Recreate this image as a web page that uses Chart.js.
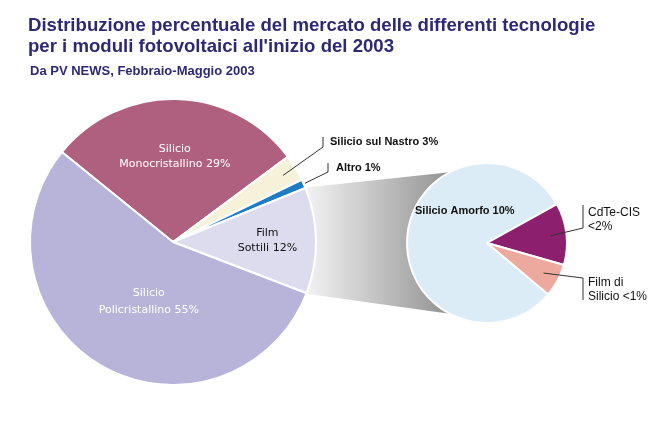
<!DOCTYPE html>
<html>
<head>
<meta charset="utf-8">
<script src="https://cdn.jsdelivr.net/npm/chart.js@4.4.1/dist/chart.umd.min.js"></script>
<style>
body { margin: 0; background: #fff; }
#wrap { position: relative; width: 667px; height: 427px; overflow: hidden; }
canvas { position: absolute; left: 0; top: 0; }
.t { position: absolute; left: 28px; font-family: "Liberation Sans", Arial, sans-serif; font-weight: bold; color: #2e2974; white-space: nowrap; }
#title { top: 14px; font-size: 18.6px; line-height: 21px; }
#sub { top: 63px; left: 30px; font-size: 13px; line-height: 15px; }
</style>
</head>
<body>
<div id="wrap">
  <canvas id="detail" width="667" height="427"></canvas>
  <canvas id="main" width="667" height="427"></canvas>
  <div class="t" id="title">Distribuzione percentuale del mercato delle differenti tecnologie<br>per i moduli fotovoltaici all'inizio del 2003</div>
  <div class="t" id="sub">Da PV NEWS, Febbraio-Maggio 2003</div>
</div>
<script>
// Data
const mainLabels = ['Silicio Monocristallino', 'Silicio sul Nastro', 'Altro', 'Film Sottili', 'Silicio Policristallino'];
const mainValues = [29, 3, 1, 12, 55];
const mainText = [['Silicio', 'Monocristallino 29%'], ['Silicio sul Nastro 3%'], ['Altro 1%'], ['Film', 'Sottili 12%'], ['Silicio', 'Policristallino 55%']];

const detailLabels = ['Silicio Amorfo', 'CdTe-CIS', 'Film di Silicio'];
const detailValues = [9.7, 1.5, 0.8];
const detailText = [['Silicio Amorfo 10%'], ['CdTe-CIS', '<2%'], ['Film di', 'Silicio <1%']];

const mainColors = ['#b0607f', '#f6f2da', '#1f7cc0', '#dddbee', '#b8b3d8'];
const detailColors = ['#dcecf6', '#8c1f6e', '#eea99f'];

const FILM_INDEX = 3; // slice that the detail pie breaks down

function mid(a) { return (a.startAngle + a.endAngle) / 2; }
function pt(a, ang, frac) {
    return { x: a.x + Math.cos(ang) * a.outerRadius * frac, y: a.y + Math.sin(ang) * a.outerRadius * frac };
}

function drawLines(ctx, lines, x, y, lh, align) {
    ctx.textAlign = align;
    ctx.textBaseline = 'middle';
    const top = y - (lines.length - 1) * lh / 2;
    lines.forEach((l, i) => ctx.fillText(l, x, top + i * lh));
}

function leader(ctx, pts) {
    ctx.beginPath();
    ctx.moveTo(pts[0].x, pts[0].y);
    for (let i = 1; i < pts.length; i++) ctx.lineTo(pts[i].x, pts[i].y);
    ctx.strokeStyle = '#333';
    ctx.lineWidth = 1;
    ctx.stroke();
}

// labels on the main pie
const mainLabelPlugin = {
    id: 'mainLabels',
    afterDatasetsDraw(chart) {
        const ctx = chart.ctx;
        const arcs = chart.getDatasetMeta(0).data;
        ctx.save();
        // inside labels
        ctx.font = '11px "DejaVu Sans", Verdana, sans-serif';
        let p = pt(arcs[0], mid(arcs[0]), 0.6);
        ctx.fillStyle = '#fff';
        drawLines(ctx, mainText[0], p.x, p.y, 15, 'center');
        p = pt(arcs[4], mid(arcs[4]), 0.45);
        drawLines(ctx, mainText[4], p.x + 8, p.y + 4, 17, 'center');
        p = pt(arcs[3], mid(arcs[3]), 0.66);
        ctx.fillStyle = '#111';
        drawLines(ctx, mainText[3], p.x, p.y, 15, 'center');

        // callouts
        ctx.font = 'bold 11px "Liberation Sans", Arial, sans-serif';
        ctx.fillStyle = '#111';
        p = pt(arcs[1], mid(arcs[1]), 0.9);
        leader(ctx, [p, { x: 323, y: 147 }, { x: 323, y: 137 }]);
        drawLines(ctx, mainText[1], 330, 142, 14, 'left');
        p = pt(arcs[2], mid(arcs[2]), 1.01);
        leader(ctx, [p, { x: 328, y: 172 }, { x: 328, y: 163 }]);
        drawLines(ctx, mainText[2], 336, 168, 14, 'left');
        ctx.restore();
    }
};

const mainChart = new Chart(document.getElementById('main'), {
    type: 'pie',
    data: {
        labels: mainLabels,
        datasets: [{
            data: mainValues,
            backgroundColor: mainColors,
            borderColor: '#fff',
            borderWidth: 2
        }]
    },
    options: {
        responsive: false,
        animation: false,
        devicePixelRatio: 1,
        rotation: -51,
        layout: { padding: { left: 29, right: 350, top: 98, bottom: 41 } },
        plugins: { legend: { display: false }, tooltip: { enabled: false } }
    },
    plugins: [mainLabelPlugin]
});

// connector band + labels of the detail pie
const detailPlugin = {
    id: 'detailExtras',
    beforeDatasetsDraw(chart) {
        const film = mainChart.getDatasetMeta(0).data[FILM_INDEX];
        const a0 = chart.getDatasetMeta(0).data[0];
        const ctx = chart.ctx;
        const top = pt(film, film.startAngle, 1);
        const bot = pt(film, film.endAngle, 1);
        const ang = 118 * Math.PI / 180;
        const r = a0.outerRadius;
        const t2 = { x: a0.x + Math.cos(ang) * r, y: a0.y - Math.sin(ang) * r };
        const b2 = { x: t2.x, y: a0.y + Math.sin(ang) * r };
        const g = ctx.createLinearGradient(top.x, 0, t2.x, 0);
        g.addColorStop(0, '#f3f3f3');
        g.addColorStop(1, '#929292');
        ctx.save();
        ctx.beginPath();
        ctx.moveTo(top.x - 4, top.y);
        ctx.lineTo(t2.x, t2.y);
        ctx.lineTo(a0.x, a0.y);
        ctx.lineTo(b2.x, b2.y);
        ctx.lineTo(bot.x - 4, bot.y);
        ctx.closePath();
        ctx.fillStyle = g;
        ctx.fill();
        ctx.restore();
    },
    afterDatasetsDraw(chart) {
        const ctx = chart.ctx;
        const arcs = chart.getDatasetMeta(0).data;
        const c = arcs[0];
        ctx.save();
        ctx.fillStyle = '#111';
        ctx.font = 'bold 11px "Liberation Sans", Arial, sans-serif';
        drawLines(ctx, detailText[0], c.x - 72, c.y - 32, 14, 'left');

        ctx.font = '12px "Liberation Sans", Arial, sans-serif';
        let p = pt(arcs[1], mid(arcs[1]), 0.8);
        leader(ctx, [p, { x: 583, y: 228 }, { x: 583, y: 205 }]);
        drawLines(ctx, detailText[1], 588, 220, 14, 'left');
        p = pt(arcs[2], mid(arcs[2]), 0.8);
        leader(ctx, [p, { x: 583, y: 278 }, { x: 583, y: 300 }]);
        drawLines(ctx, detailText[2], 588, 290, 14, 'left');
        ctx.restore();
    }
};

new Chart(document.getElementById('detail'), {
    type: 'pie',
    data: {
        labels: detailLabels,
        datasets: [{
            data: detailValues,
            backgroundColor: detailColors,
            borderColor: '#fff',
            borderWidth: 2
        }]
    },
    options: {
        responsive: false,
        animation: false,
        devicePixelRatio: 1,
        rotation: 130,
        layout: { padding: { left: 406, right: 99, top: 162, bottom: 103 } },
        plugins: { legend: { display: false }, tooltip: { enabled: false } }
    },
    plugins: [detailPlugin]
});
</script>
</body>
</html>
